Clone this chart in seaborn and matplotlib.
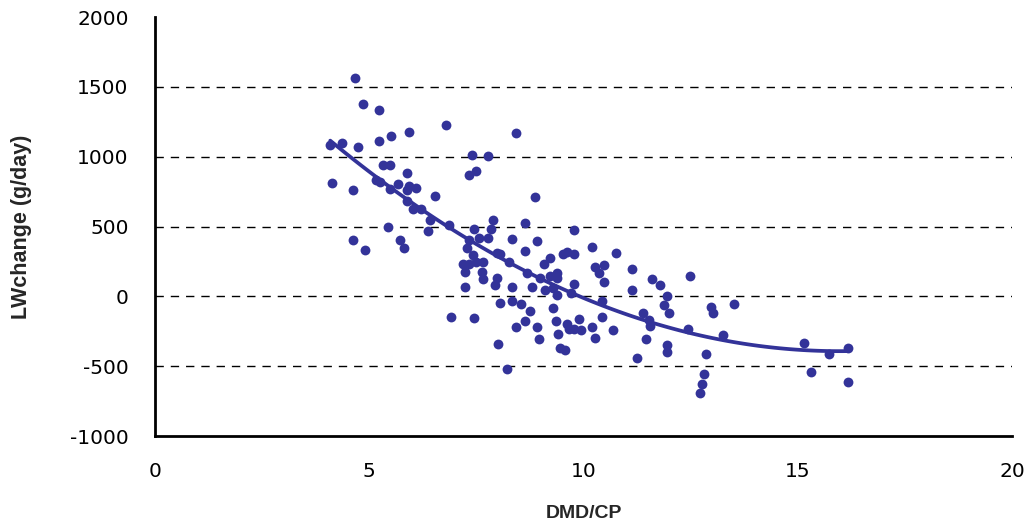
import matplotlib
matplotlib.use("Agg")
import matplotlib.pyplot as plt
from matplotlib.path import Path
from matplotlib.transforms import Affine2D
import seaborn as sns
import pandas as pd

# ---- data ----
dmd_cp = [
    4.67, 4.85, 5.22, 6.79, 4.09, 4.36, 4.74, 5.22, 5.50, 5.93, 7.40, 7.77, 5.33, 5.49, 5.88,
    7.33, 7.50, 4.14, 4.63, 5.16, 5.26, 5.49, 5.66, 5.88, 5.92, 6.09, 6.53, 5.88, 6.03, 6.20,
    6.42, 6.86, 7.88, 5.43, 6.36, 7.44, 7.83, 4.63, 4.91, 5.72, 5.82, 7.33, 7.56, 7.77, 7.29,
    7.43, 7.97,
    7.18, 7.33, 7.50, 7.66, 7.23, 7.62, 7.66, 7.98, 7.93, 7.23, 8.05, 6.90, 7.44, 8.01,
    8.86, 8.64, 9.77, 8.32, 8.91, 8.06, 8.64, 10.21, 10.75, 9.23, 9.52, 9.62, 9.77, 8.26, 9.08,
    8.32, 8.69, 8.80, 8.98, 9.23, 9.39, 9.39, 9.10, 9.29, 9.39, 9.78, 9.72, 10.26, 10.48, 10.37,
    10.48, 11.13, 11.13, 10.43, 8.32, 8.53, 8.74, 9.29, 8.64, 8.43, 8.91, 9.35, 9.62, 9.89, 10.43,
    9.67, 9.79, 9.95, 10.21, 10.70, 9.40, 8.96, 10.26, 9.45, 9.57, 11.26, 8.21, 8.42,
    11.61, 11.78, 12.49, 11.95, 11.89, 12.00, 11.40, 11.52, 11.56, 11.46, 11.95, 11.95, 12.43,
    12.98, 13.03, 13.52, 13.25, 12.87, 12.82, 12.76, 12.71, 15.15, 15.30, 15.74, 16.17, 16.17,
]
lw_change = [
    1562, 1376, 1335, 1228, 1085, 1097, 1070, 1109, 1149, 1175, 1013, 1004, 937, 937, 882,
    870, 894, 815, 760, 832, 817, 770, 803, 762, 791, 774, 722, 684, 626, 626,
    548, 512, 548, 495, 469, 483, 483, 404, 335, 404, 349, 404, 416, 416, 349,
    297, 309,
    230, 230, 244, 244, 177, 177, 122, 134, 81, 69, -50, -146, -158, -344,
    711, 526, 474, 408, 396, 301, 327, 355, 313, 275, 301, 317, 301, 249, 234,
    64, 170, 64, 133, 144, 168, 128, 47, 59, 12, 88, 24, 211, 223, 170,
    104, 194, 47, -31, -31, -57, -107, -83, -173, -216, -216, -173, -199, -164, -149,
    -237, -232, -240, -216, -240, -268, -308, -296, -372, -386, -441, -517, 1168,
    122, 81, 148, 2, -65, -120, -120, -167, -210, -306, -347, -399, -237,
    -79, -120, -53, -277, -411, -557, -624, -691, -332, -545, -411, -368, -612,
]
x_ticks = [0, 5, 10, 15, 20]
y_ticks = [-1000, -500, 0, 500, 1000, 1500, 2000]
x_title = "DMD/CP"
y_title = "LWchange (g/day)"

df = pd.DataFrame({x_title: dmd_cp, y_title: lw_change})

sns.set_style("white")
plt.rcParams["font.family"] = ["DejaVu Sans"]
plt.rcParams["axes.unicode_minus"] = False

navy = "#333399"
ellipse = Path.unit_circle().transformed(Affine2D().scale(1.0, 0.78))

fig = plt.figure(figsize=(10.29, 5.28), dpi=100)
ax = fig.add_axes([0.1506, 0.1742, 0.8329, 0.7936])

sns.regplot(
    data=df, x=x_title, y=y_title, order=2, ci=None, ax=ax,
    scatter_kws=dict(marker=ellipse, s=50, color=navy, linewidths=0, alpha=1),
    line_kws=dict(color=navy, lw=2.7),
)

ax.set_xlim(x_ticks[0], x_ticks[-1])
ax.set_ylim(y_ticks[0], y_ticks[-1])
ax.set_xticks(x_ticks)
ax.set_yticks(y_ticks)

ax.yaxis.grid(True, color="black", lw=1.0, linestyle=(0, (6, 5)))
ax.xaxis.grid(False)
gl = ax.get_ygridlines()
gl[0].set_visible(False)
gl[-1].set_visible(False)
ax.set_axisbelow(True)

for side in ["top", "right"]:
    ax.spines[side].set_visible(False)
for side in ["left", "bottom"]:
    ax.spines[side].set_linewidth(2.0)
    ax.spines[side].set_color("black")

ax.tick_params(axis="both", direction="in", length=4.5, width=1.8, color="black",
               labelsize=14.5, labelcolor="black", pad=19)

ax.set_xlabel(x_title, fontsize=14, fontweight="bold", family=["Liberation Sans", "DejaVu Sans"],
              labelpad=17)
ax.set_ylabel(y_title, fontsize=15.5, fontweight="bold", family=["Liberation Sans", "DejaVu Sans"],
              labelpad=27)

fig.savefig("out.png", dpi=100)
